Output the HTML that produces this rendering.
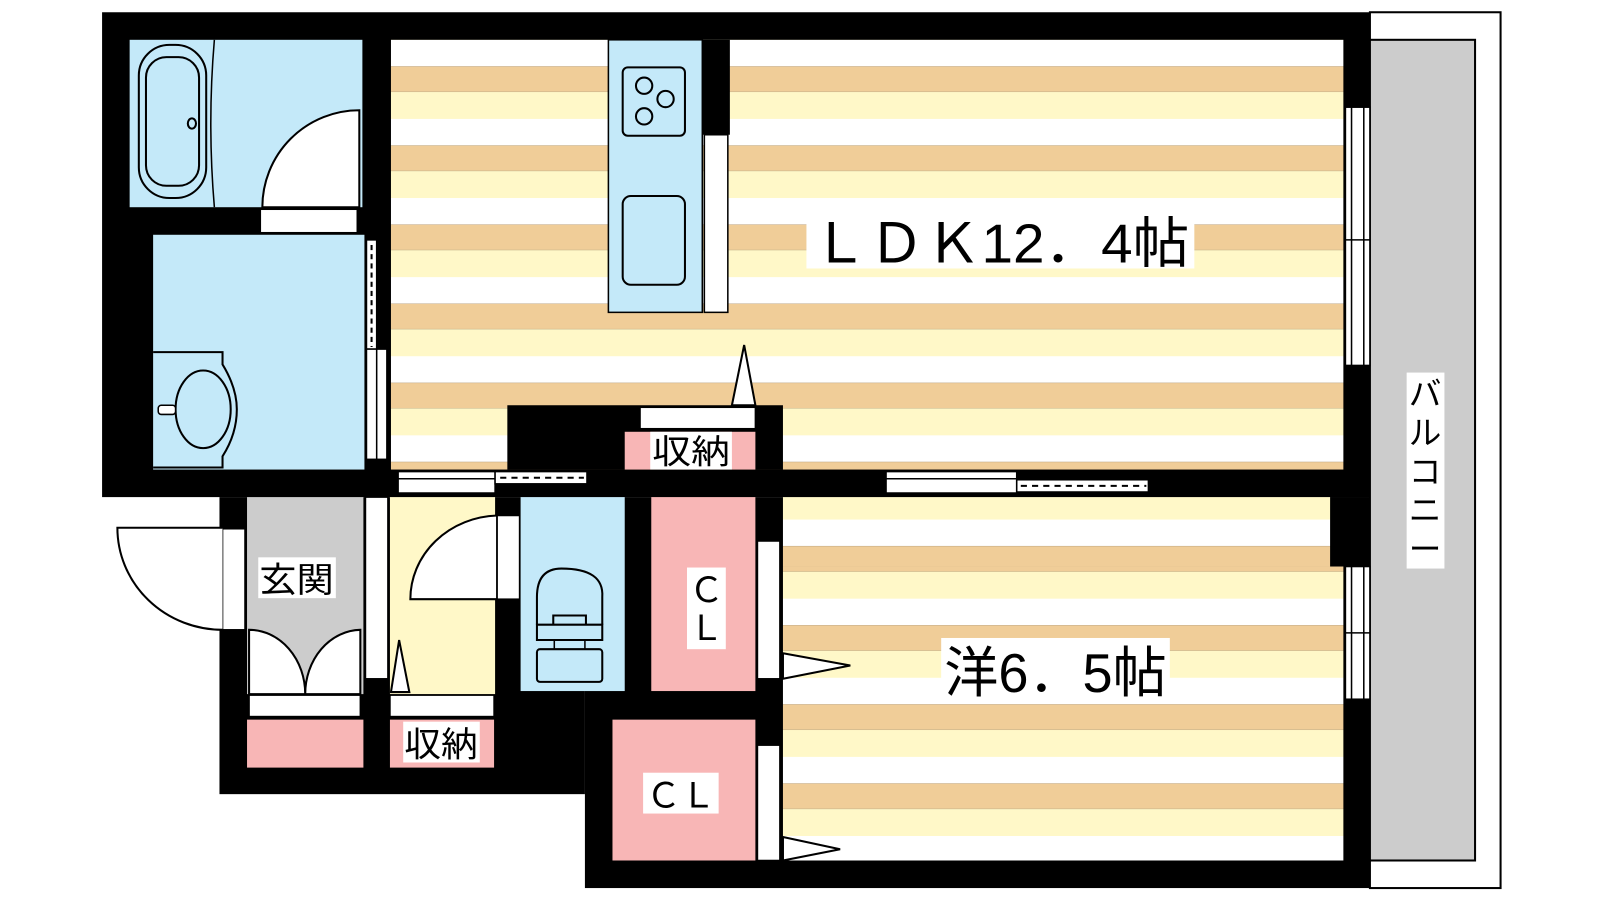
<!DOCTYPE html>
<html><head><meta charset="utf-8"><style>html,body{margin:0;padding:0;background:#fff}svg{display:block}</style></head>
<body>
<svg width="1600" height="900" viewBox="0 0 1567.4 881.7" preserveAspectRatio="none" xmlns="http://www.w3.org/2000/svg" font-family="'Liberation Sans','Noto Sans CJK JP',sans-serif">
<defs>
<pattern id="ldk" patternUnits="userSpaceOnUse" x="0" y="39" width="10" height="77.5">
<rect width="10" height="26" y="0" fill="#fff"/><rect width="10" height="25" y="26" fill="#f0cd98"/><rect width="10" height="26.5" y="51" fill="#fff8c8"/>
</pattern>
<pattern id="bed" patternUnits="userSpaceOnUse" x="0" y="509" width="10" height="77.5">
<rect width="10" height="26" y="0" fill="#fff"/><rect width="10" height="25" y="26" fill="#f0cd98"/><rect width="10" height="26.5" y="51" fill="#fff8c8"/>
</pattern>
</defs>
<rect x="1342" y="12" width="128" height="858" fill="#fff" stroke="#000" stroke-width="2"/>
<rect x="1342" y="39" width="103" height="804" fill="#cccccc" stroke="#000" stroke-width="2"/>
<rect x="100" y="12" width="1242" height="475" fill="#000"/>
<rect x="215" y="487" width="358" height="291" fill="#000"/>
<rect x="573" y="487" width="769" height="383" fill="#000"/>
<rect x="383" y="39" width="933" height="421" fill="url(#ldk)"/>
<rect x="497" y="397" width="270" height="63" fill="#000"/>
<rect x="612" y="423" width="128" height="37" fill="#f8b6b6"/>
<rect x="627" y="399" width="113" height="21" fill="#fff" stroke="#000" stroke-width="1.5"/>
<polygon points="717,397 729,338 740,397" fill="#fff" stroke="#000" stroke-width="2"/>
<rect x="596" y="39" width="92" height="267" fill="#c4e9f9" stroke="#000" stroke-width="1.5"/>
<rect x="688" y="39" width="27" height="93" fill="#000"/>
<rect x="690" y="132" width="23" height="174" fill="#fff" stroke="#000" stroke-width="1.5"/>
<rect x="610" y="66" width="61" height="67" rx="5" fill="none" stroke="#000" stroke-width="2"/>
<circle cx="631" cy="84" r="8" fill="none" stroke="#000" stroke-width="2"/>
<circle cx="652" cy="97" r="8" fill="none" stroke="#000" stroke-width="2"/>
<circle cx="631" cy="114" r="8" fill="none" stroke="#000" stroke-width="2"/>
<rect x="610" y="192" width="61" height="87" rx="8" fill="none" stroke="#000" stroke-width="2"/>
<rect x="127" y="39" width="228" height="164" fill="#c4e9f9"/>
<path d="M210 39 Q203 121 210 203" fill="none" stroke="#000" stroke-width="1.5"/>
<rect x="136" y="44" width="66" height="150" rx="30" fill="none" stroke="#000" stroke-width="2"/>
<rect x="143" y="56" width="52" height="126" rx="20" fill="none" stroke="#000" stroke-width="2"/>
<ellipse cx="188" cy="121" rx="4" ry="5" fill="none" stroke="#000" stroke-width="2"/>
<rect x="255" y="205" width="95" height="23" fill="#fff" stroke="#000" stroke-width="1.5"/>
<path d="M257 203 A95 95 0 0 1 352 108 L352 203 Z" fill="#fff" stroke="#000" stroke-width="2"/>
<rect x="150" y="230" width="207" height="230" fill="#c4e9f9"/>
<path d="M150 345 L218 345 L218 357 Q232 380 232 401 Q232 425 218 447 L218 458 L150 458" fill="none" stroke="#000" stroke-width="2"/>
<ellipse cx="199" cy="401" rx="27" ry="38" fill="none" stroke="#000" stroke-width="2"/>
<rect x="155" y="397" width="17" height="9" rx="3" fill="#fff" stroke="#000" stroke-width="1.5"/>
<rect x="359" y="235" width="10" height="107" fill="#fff" stroke="#000" stroke-width="1.5"/>
<line x1="364" y1="240" x2="364" y2="340" stroke="#000" stroke-width="2" stroke-dasharray="5,4"/>
<rect x="359" y="342" width="20" height="108" fill="#fff" stroke="#000" stroke-width="1.5"/>
<line x1="369" y1="342" x2="369" y2="450" stroke="#000" stroke-width="1.5"/>
<rect x="390" y="462" width="95" height="21" fill="#fff" stroke="#000" stroke-width="1.5"/>
<line x1="390" y1="469" x2="485" y2="469" stroke="#000" stroke-width="1.5"/>
<rect x="485" y="462" width="90" height="12" fill="#fff" stroke="#000" stroke-width="1.5"/>
<line x1="490" y1="468" x2="572" y2="468" stroke="#000" stroke-width="2" stroke-dasharray="6,5"/>
<rect x="868" y="462" width="128" height="21" fill="#fff" stroke="#000" stroke-width="1.5"/>
<line x1="868" y1="469" x2="996" y2="469" stroke="#000" stroke-width="1.5"/>
<rect x="996" y="470" width="129" height="12" fill="#fff" stroke="#000" stroke-width="1.5"/>
<line x1="1000" y1="476" x2="1123" y2="476" stroke="#000" stroke-width="2" stroke-dasharray="6,5"/>
<rect x="1318" y="105" width="24" height="253" fill="#fff" stroke="#000" stroke-width="1.5"/>
<line x1="1324" y1="105" x2="1324" y2="358" stroke="#000" stroke-width="1.5"/>
<line x1="1336" y1="105" x2="1336" y2="358" stroke="#000" stroke-width="1.5"/>
<line x1="1318" y1="235" x2="1342" y2="235" stroke="#000" stroke-width="1.5"/>
<rect x="1303" y="487" width="39" height="68" fill="#000"/>
<rect x="1318" y="555" width="24" height="130" fill="#fff" stroke="#000" stroke-width="1.5"/>
<line x1="1324" y1="555" x2="1324" y2="685" stroke="#000" stroke-width="1.5"/>
<line x1="1336" y1="555" x2="1336" y2="685" stroke="#000" stroke-width="1.5"/>
<line x1="1318" y1="620" x2="1342" y2="620" stroke="#000" stroke-width="1.5"/>
<rect x="767" y="487" width="536" height="68" fill="url(#bed)"/>
<rect x="767" y="555" width="549" height="288" fill="url(#bed)"/>
<rect x="242" y="487" width="114" height="193" fill="#cccccc"/>
<path d="M244 680 L244 617 A55 63 0 0 1 299 680 A55 63 0 0 1 353 617 L353 680 Z" fill="#fff" stroke="#000" stroke-width="2"/>
<rect x="244" y="681" width="109" height="21" fill="#fff" stroke="#000" stroke-width="1.5"/>
<rect x="242" y="705" width="114" height="47" fill="#f8b6b6"/>
<rect x="218" y="518" width="22" height="99" fill="#fff" stroke="#000" stroke-width="1.5"/>
<path d="M218 517 L115 517 A103 100 0 0 0 218 617" fill="#fff" stroke="#000" stroke-width="2"/>
<rect x="358" y="487" width="22" height="178" fill="#fff" stroke="#000" stroke-width="1.5"/>
<rect x="382" y="487" width="103" height="193" fill="#fff8c8"/>
<polygon points="383,678 391,627 401,678" fill="#fff" stroke="#000" stroke-width="2"/>
<path d="M402 587 A88 82 0 0 1 487 505 L487 587 Z" fill="#fff" stroke="#000" stroke-width="2"/>
<rect x="382" y="681" width="102" height="21" fill="#fff" stroke="#000" stroke-width="1.5"/>
<rect x="382" y="705" width="102" height="47" fill="#f8b6b6"/>
<rect x="487" y="505" width="22" height="82" fill="#fff" stroke="#000" stroke-width="1.5"/>
<rect x="510" y="487" width="102" height="190" fill="#c4e9f9"/>
<path d="M526 612 L526 585 Q526 557 550 557 Q592 557 590 585 L590 612" fill="none" stroke="#000" stroke-width="2"/>
<path d="M526 612 L590 612 L590 627 L526 627 Z M542 612 L542 603 L574 603 L574 612" fill="none" stroke="#000" stroke-width="2"/>
<rect x="526" y="636" width="64" height="32" rx="3" fill="none" stroke="#000" stroke-width="2"/>
<rect x="543" y="627" width="30" height="9" fill="none" stroke="#000" stroke-width="1.5"/>
<rect x="638" y="487" width="102" height="190" fill="#f8b6b6"/>
<rect x="600" y="705" width="140" height="138" fill="#f8b6b6"/>
<rect x="742" y="530" width="22" height="135" fill="#fff" stroke="#000" stroke-width="1.5"/>
<polygon points="767,640 833,652 767,665" fill="#fff" stroke="#000" stroke-width="2"/>
<rect x="742" y="730" width="22" height="113" fill="#fff" stroke="#000" stroke-width="1.5"/>
<polygon points="767,820 823,832 767,843" fill="#fff" stroke="#000" stroke-width="2"/>
<rect x="790" y="205" width="380" height="58" fill="#fff"/>
<text x="795" y="257" font-size="54" textLength="370" lengthAdjust="spacingAndGlyphs">ＬＤＫ12．4帖</text>
<rect x="922" y="625" width="224" height="60" fill="#fff"/>
<text x="925" y="678" font-size="54" textLength="218" lengthAdjust="spacingAndGlyphs">洋6．5帖</text>
<rect x="637" y="423" width="80" height="37" fill="#fff"/>
<text x="639" y="454" font-size="33" textLength="76" lengthAdjust="spacingAndGlyphs">収納</text>
<rect x="395" y="707" width="75" height="40" fill="#fff"/>
<text x="396" y="741" font-size="34" textLength="72" lengthAdjust="spacingAndGlyphs">収納</text>
<rect x="253" y="546" width="76" height="40" fill="#fff"/>
<text x="254" y="580" font-size="34" textLength="73" lengthAdjust="spacingAndGlyphs">玄関</text>
<rect x="673" y="556" width="38" height="80" fill="#fff"/>
<text x="692" y="590" font-size="34" text-anchor="middle">Ｃ</text>
<text x="692" y="627" font-size="34" text-anchor="middle">Ｌ</text>
<rect x="630" y="757" width="74" height="40" fill="#fff"/>
<text x="633" y="791" font-size="34" textLength="68" lengthAdjust="spacingAndGlyphs">ＣＬ</text>
<rect x="1378" y="365" width="37" height="192" fill="#fff"/>
<g font-size="32" text-anchor="middle">
<text x="1396" y="397">バ</text><text x="1396" y="435">ル</text><text x="1396" y="473">コ</text><text x="1396" y="511">ニ</text><text x="1396" y="549">ー</text>
</g>
</svg>
</body></html>
